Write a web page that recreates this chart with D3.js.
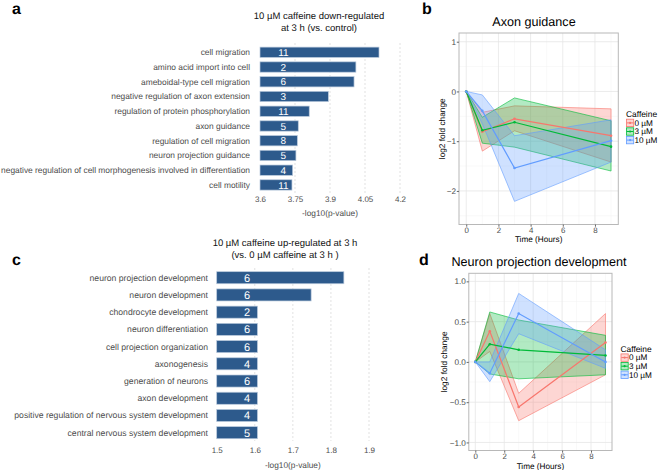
<!DOCTYPE html>
<html><head><meta charset="utf-8">
<script src="https://cdn.jsdelivr.net/npm/d3@7"></script>
<style>body{margin:0;background:#fff} svg{display:block;font-family:"Liberation Sans",Arial,Helvetica,sans-serif;text-rendering:geometricPrecision}</style>
</head><body><svg id="fig" width="658" height="470"></svg>
<script>
// ---------- data ----------
const downTerms = ["cell migration","amino acid import into cell","ameboidal-type cell migration","negative regulation of axon extension","regulation of protein phosphorylation","axon guidance","regulation of cell migration","neuron projection guidance","negative regulation of cell morphogenesis involved in differentiation","cell motility"];
const downValues = [4.110, 4.011, 4.003, 3.893, 3.811, 3.764, 3.760, 3.754, 3.740, 3.737];
const downCounts = [11, 2, 6, 3, 11, 5, 8, 5, 4, 11];
const downTicks = [3.6, 3.75, 3.9, 4.05, 4.2];

const upTerms = ["neuron projection development","neuron development","chondrocyte development","neuron differentiation","cell projection organization","axonogenesis","generation of neurons","axon development","positive regulation of nervous system development","central nervous system development"];
const upValues = [1.834, 1.748, 1.607, 1.607, 1.607, 1.607, 1.607, 1.607, 1.607, 1.607];
const upCounts = [6, 6, 2, 6, 6, 4, 6, 4, 4, 5];
const upTicks = [1.5, 1.6, 1.7, 1.8, 1.9];

const hours = [0, 1, 3, 9];
const doses = ["0 µM", "3 µM", "10 µM"];
const doseColors = ["#F8766D", "#00BA38", "#619CFF"];

// Axon guidance (per dose: values at hours 0,1,3,9)
const axonMean  = [[0, -0.81, -0.55, -0.89], [0, -0.78, -0.62, -1.11], [0, -0.39, -1.54, -0.99]];
const axonUpper = [[0, -0.42, -0.29, -0.35], [0, -0.52, -0.13, -0.59], [0, -0.07, -0.89, -0.57]];
const axonLower = [[0, -1.20, -0.79, -1.42], [0, -1.04, -1.12, -1.60], [0, -0.65, -2.21, -1.42]];
const axonYTicks = [-2, -1, 0, 1];
const axonYMinor = [-2.5, -1.5, -0.5, 0.5];

// Neuron projection development
const npdMean  = [[0, 0.38, -0.56, 0.24], [0, 0.22, 0.15, 0.08], [0, -0.14, 0.60, 0.00]];
const npdUpper = [[0, 0.60, -0.39, 0.60], [0, 0.62, 0.52, 0.33], [0, 0.00, 0.85, 0.15]];
const npdLower = [[0, 0.13, -0.73, -0.16], [0, -0.15, -0.21, -0.16], [0, -0.245, 0.35, -0.08]];
const npdYTicks = [-1, -0.5, 0, 0.5, 1];
const npdYMinor = [-0.75, -0.25, 0.25, 0.75];

const xTicks = [0, 2, 4, 6, 8];
const xMinor = [1, 3, 5, 7, 9];

// ---------- drawing ----------
const svg = d3.select("#fig");
const BAR = "#2d5a8c";

function panelLabel(t, x, y) {
  svg.append("text").attr("x", x).attr("y", y).attr("font-size", 16).attr("font-weight", "bold").text(t);
}

function barPanel(o) {
  const g = svg.append("g");
  const x = d3.scaleLinear().domain([o.ticks[0], o.ticks[o.ticks.length - 1]]).range(o.xr);
  const y = d3.scaleBand().domain(o.terms).range(o.yr).paddingInner(0.3).paddingOuter(0.15);
  o.title.forEach((t, i) => g.append("text").attr("x", o.titleX).attr("y", o.titleY + i * o.titleGap)
    .attr("text-anchor", "middle").attr("font-size", o.titleSize).attr("fill", "#111").text(t));
  g.selectAll(".gl").data(o.ticks.slice(1)).join("line")
    .attr("x1", d => x(d)).attr("x2", d => x(d)).attr("y1", o.gridTop).attr("y2", o.gridBot)
    .attr("stroke", "#d4d4d4").attr("stroke-width", 0.7).attr("stroke-dasharray", "2,2");
  g.selectAll(".bar").data(o.terms).join("rect")
    .attr("x", x(o.ticks[0])).attr("y", d => y(d))
    .attr("width", (d, i) => x(o.values[i]) - x(o.ticks[0])).attr("height", y.bandwidth())
    .attr("fill", BAR).attr("stroke", "#b9c9dc").attr("stroke-width", 0.7);
  g.selectAll(".cnt").data(o.terms).join("text")
    .attr("x", x(o.countAt)).attr("y", d => y(d) + y.bandwidth() / 2)
    .attr("dy", "0.36em").attr("text-anchor", "middle").attr("font-size", o.countSize).attr("fill", "#fff")
    .text((d, i) => o.counts[i]);
  g.selectAll(".lab").data(o.terms).join("text")
    .attr("x", o.labelX).attr("y", d => y(d) + y.bandwidth() / 2).attr("dy", "0.35em")
    .attr("text-anchor", "end").attr("font-size", o.labelSize).attr("fill", "#4d4d4d").text(d => d);
  const ax = g.append("g").attr("transform", `translate(0,${o.tickY})`)
    .call(d3.axisBottom(x).tickValues(o.ticks).tickSize(0).tickPadding(0).tickFormat(d3.format("")));
  ax.select(".domain").remove();
  ax.selectAll("text").attr("font-size", o.tickSize).attr("fill", "#4d4d4d").attr("font-family", null);
  g.append("text").attr("x", (o.xr[0] + o.xr[1]) / 2).attr("y", o.axisTitleY).attr("text-anchor", "middle")
    .attr("font-size", 8.3).attr("fill", "#4d4d4d").text("-log10(p-value)");
}

barPanel({
  terms: downTerms, values: downValues, counts: downCounts, ticks: downTicks,
  xr: [260, 400], yr: [44.9, 192.3], gridTop: 43, gridBot: 194,
  title: ["10 µM caffeine down-regulated", "at 3 h (vs. control)"], titleX: 319, titleY: 19, titleGap: 12, titleSize: 9.5,
  countAt: 3.7, countSize: 10, labelX: 250, labelSize: 8.4, tickY: 196.5, tickSize: 8, axisTitleY: 215.5
});
barPanel({
  terms: upTerms, values: upValues, counts: upCounts, ticks: upTicks,
  xr: [216.7, 369], yr: [269.1, 441.3], gridTop: 268, gridBot: 441,
  title: ["10 µM caffeine up-regulated at 3 h", "(vs. 0 µM caffeine at 3 h )"], titleX: 285, titleY: 246, titleGap: 12, titleSize: 9.5,
  countAt: 1.58, countSize: 11, labelX: 208, labelSize: 8.65, tickY: 447, tickSize: 8, axisTitleY: 467.5
});

function linePanel(o) {
  const g = svg.append("g");
  const x = d3.scaleLinear().domain([-0.45, 9.45]).range(o.xr);
  const y = d3.scaleLinear().domain(o.yd).range(o.yr);
  const [L, R] = o.xr, [B, T] = o.yr;
  g.append("rect").attr("x", L).attr("y", T).attr("width", R - L).attr("height", B - T).attr("fill", "#fff");
  g.selectAll(".mx").data(xMinor).join("line").attr("x1", d => x(d)).attr("x2", d => x(d)).attr("y1", T).attr("y2", B)
    .attr("stroke", "#f3f3f3").attr("stroke-width", 0.5);
  g.selectAll(".my").data(o.yMinor).join("line").attr("y1", d => y(d)).attr("y2", d => y(d)).attr("x1", L).attr("x2", R)
    .attr("stroke", "#f3f3f3").attr("stroke-width", 0.5);
  g.selectAll(".Mx").data(xTicks).join("line").attr("x1", d => x(d)).attr("x2", d => x(d)).attr("y1", T).attr("y2", B)
    .attr("stroke", "#e6e6e6").attr("stroke-width", 0.8);
  g.selectAll(".My").data(o.yTicks).join("line").attr("y1", d => y(d)).attr("y2", d => y(d)).attr("x1", L).attr("x2", R)
    .attr("stroke", "#e6e6e6").attr("stroke-width", 0.8);
  const area = d3.area().x((d, i) => x(hours[i])).y0(d => y(d[0])).y1(d => y(d[1]));
  const line = d3.line().x((d, i) => x(hours[i])).y(d => y(d));
  doses.forEach((ds, k) => {
    const pts = hours.map((h, i) => [o.lower[k][i], o.upper[k][i]]);
    g.append("path").attr("d", area(pts)).attr("fill", doseColors[k]).attr("fill-opacity", 0.3)
      .attr("stroke", doseColors[k]).attr("stroke-opacity", 0.75).attr("stroke-width", 0.8);
  });
  doses.forEach((ds, k) => {
    g.append("path").attr("d", line(o.mean[k])).attr("fill", "none").attr("stroke", doseColors[k]).attr("stroke-width", 1.2);
    g.selectAll(null).data(o.mean[k]).join("circle").attr("cx", (d, i) => x(hours[i])).attr("cy", d => y(d)).attr("r", 1.3)
      .attr("fill", doseColors[k]);
  });
  g.append("rect").attr("x", L).attr("y", T).attr("width", R - L).attr("height", B - T)
    .attr("fill", "none").attr("stroke", "#b8b8b8").attr("stroke-width", 1);
  const ax = g.append("g").attr("transform", `translate(0,${B})`)
    .call(d3.axisBottom(x).tickValues(xTicks).tickSize(2.2).tickPadding(o.xPad).tickFormat(d3.format("d")));
  ax.select(".domain").remove();
  ax.selectAll("line").attr("stroke", "#666");
  ax.selectAll("text").attr("font-size", 7.9).attr("fill", "#4d4d4d").attr("font-family", null);
  const ay = g.append("g").attr("transform", `translate(${L},0)`)
    .call(d3.axisLeft(y).tickValues(o.yTicks).tickSize(2.2).tickPadding(0.8).tickFormat(o.fmt));
  ay.select(".domain").remove();
  ay.selectAll("line").attr("stroke", "#666");
  ay.selectAll("text").attr("font-size", 8.2).attr("fill", "#4d4d4d").attr("font-family", null);
  g.append("text").attr("x", (L + R) / 2).attr("y", o.xTitleY).attr("text-anchor", "middle").attr("font-size", 8.2).text("Time (Hours)");
  g.append("text").attr("transform", `translate(${o.yTitleX},${(T + B) / 2}) rotate(-90)`).attr("text-anchor", "middle")
    .attr("font-size", 8.3).text("log2 fold change");
  g.append("text").attr("x", o.titleX).attr("y", o.titleY).attr("text-anchor", "middle").attr("font-size", 12.6).text(o.title);
  const lg = g.append("g").attr("transform", `translate(${o.legX},${o.legY})`);
  lg.append("text").attr("x", 0).attr("y", 0).attr("font-size", 8.4).text("Caffeine");
  doses.forEach((ds, k) => {
    const cy = 5.6 + k * 8.6;
    lg.append("rect").attr("x", 0.5).attr("y", cy - 3.7).attr("width", 7.2).attr("height", 7.4)
      .attr("fill", doseColors[k]).attr("fill-opacity", 0.3).attr("stroke", doseColors[k]).attr("stroke-width", 0.8);
    lg.append("line").attr("x1", 0.8).attr("x2", 7.4).attr("y1", cy).attr("y2", cy).attr("stroke", doseColors[k]).attr("stroke-width", 1);
    lg.append("circle").attr("cx", 4.1).attr("cy", cy).attr("r", 1.1).attr("fill", doseColors[k]);
    lg.append("text").attr("x", 8.4).attr("y", cy).attr("dy", "0.35em").attr("font-size", 8.2).text(ds);
  });
}

linePanel({
  mean: axonMean, upper: axonUpper, lower: axonLower, yTicks: axonYTicks, yMinor: axonYMinor,
  yd: [-2.675, 1.175], xr: [459, 618.3], yr: [224.5, 33], fmt: d3.format("d"), xPad: 0.3,
  title: "Axon guidance", titleX: 534, titleY: 26, xTitleY: 242.3, yTitleX: 444.5, legX: 626, legY: 117.3
});
linePanel({
  mean: npdMean, upper: npdUpper, lower: npdLower, yTicks: npdYTicks, yMinor: npdYMinor,
  yd: [-1.1, 1.1], xr: [468.8, 612], yr: [450.5, 273.3], fmt: d3.format(".1f"), xPad: 0.6,
  title: "Neuron projection development", titleX: 539, titleY: 265.5, xTitleY: 469, yTitleX: 446.5, legX: 620.5, legY: 352
});

panelLabel("a", 12, 14);
panelLabel("b", 422, 14);
panelLabel("c", 12, 265);
panelLabel("d", 419, 265);
</script></body></html>
